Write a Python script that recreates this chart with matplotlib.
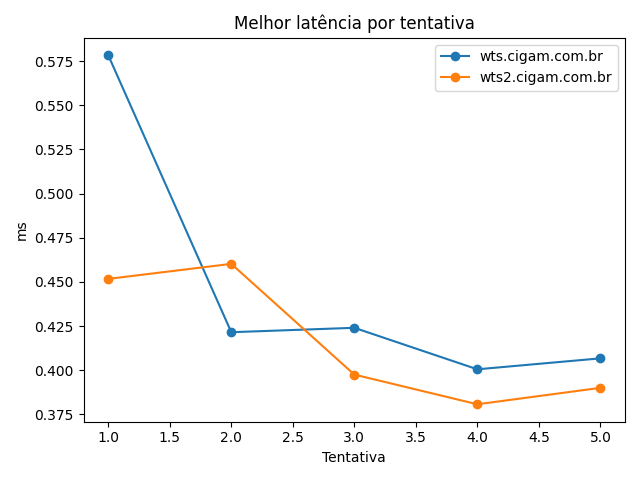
import matplotlib
matplotlib.use("Agg")
import matplotlib.pyplot as plt

tentativas = [1, 2, 3, 4, 5]
wts = [0.5783, 0.4215, 0.4240, 0.4005, 0.4067]
wts2 = [0.4517, 0.4602, 0.3975, 0.3807, 0.3900]

fig, ax = plt.subplots(figsize=(6.4, 4.8), dpi=100)
ax.plot(tentativas, wts, marker='o', label='wts.cigam.com.br')
ax.plot(tentativas, wts2, marker='o', label='wts2.cigam.com.br')
ax.set_title('Melhor latência por tentativa')
ax.set_xlabel('Tentativa')
ax.set_ylabel('ms')
ax.legend()
fig.tight_layout()
fig.savefig('out.png')
